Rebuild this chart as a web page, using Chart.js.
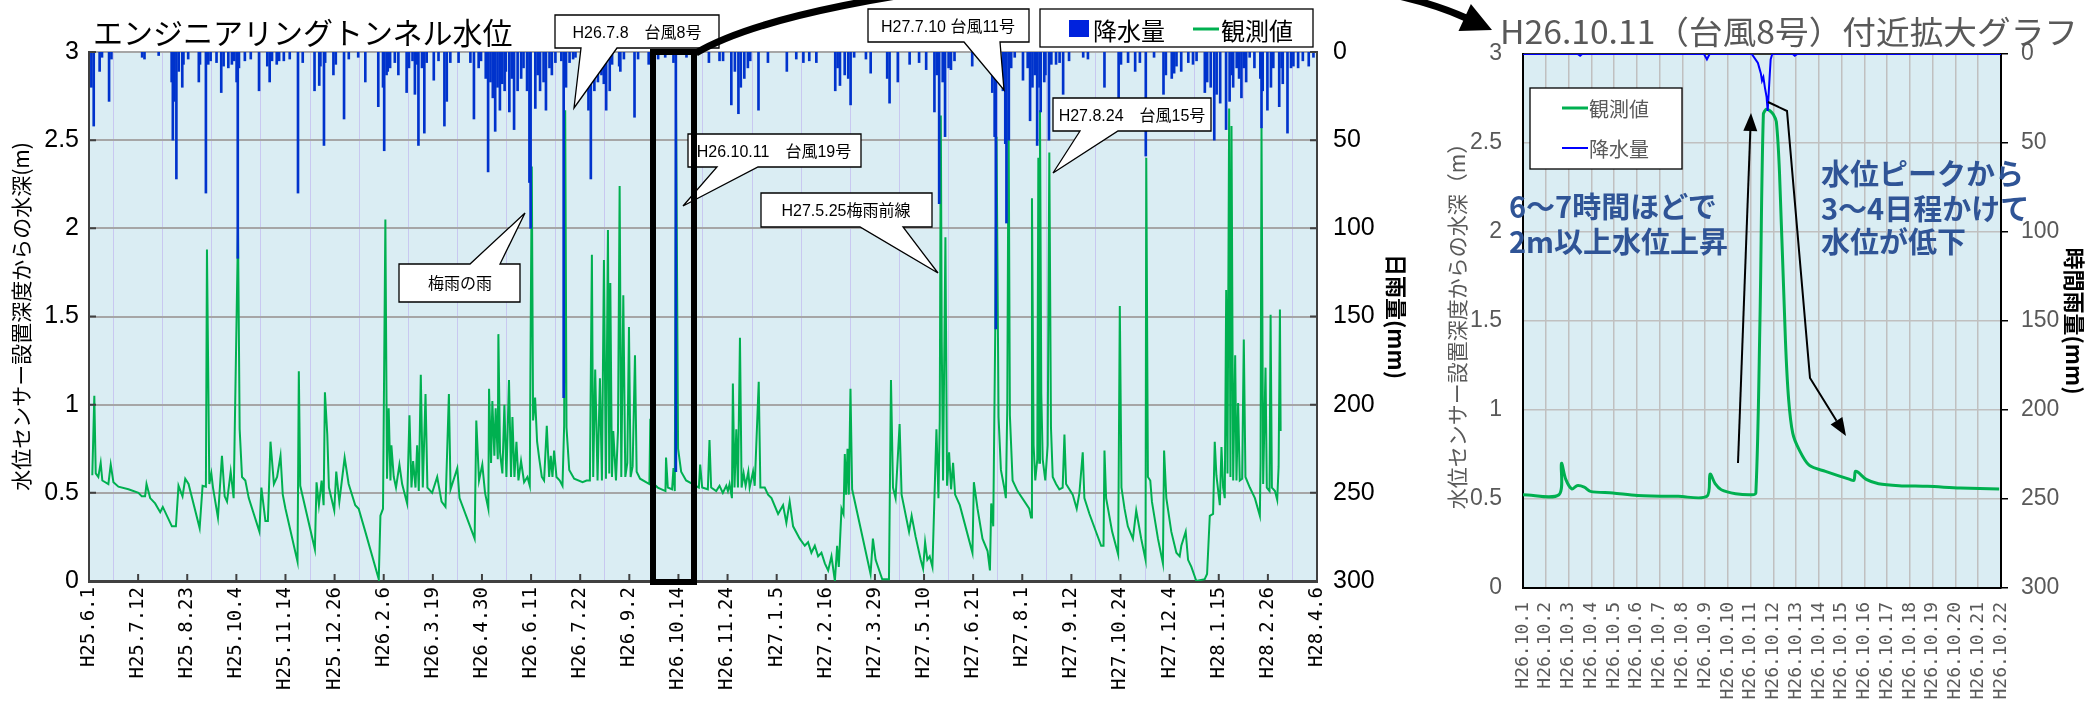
<!DOCTYPE html>
<html lang="ja">
<head>
<meta charset="utf-8">
<script src="https://cdn.jsdelivr.net/npm/chart.js@4.4.1/dist/chart.umd.min.js"></script>
<style>
  html, body { margin: 0; padding: 0; background: #fff; }
  body { width: 2092px; height: 702px; position: relative; overflow: hidden; }
  #mainChart { position: absolute; left: 0; top: 0; }
  #zoomChart { position: absolute; left: 1400px; top: 0; }
  #overlay { position: absolute; left: 0; top: 0; }
  #overlay text { font-family: 'Noto Sans CJK JP', sans-serif; }
  .callout { font-family: 'Liberation Sans Narrow', 'Liberation Sans', 'Noto Sans CJK JP', sans-serif !important; font-size: 16px; }
</style>
</head>
<body>
<canvas id="mainChart" width="1412" height="702" style="width:1412px;height:702px"></canvas>
<canvas id="zoomChart" width="692" height="702" style="width:692px;height:702px"></canvas>

<svg id="overlay" width="2092" height="702" xmlns="http://www.w3.org/2000/svg">
  <!-- titles -->
  <text x="93" y="31" font-size="30" dominant-baseline="central" fill="#000">エンジニアリングトンネル水位</text>
  <text x="1500" y="30" font-size="32" dominant-baseline="central" fill="#595959" textLength="578" lengthAdjust="spacingAndGlyphs">H26.10.11（台風8号）付近拡大グラフ</text>

  <!-- left legend -->
  <rect x="1040" y="9" width="273" height="38" fill="#fff" stroke="#000" stroke-width="1.3"/>
  <rect x="1069" y="20" width="20" height="17" fill="#0022dd"/>
  <text x="1093" y="29" font-size="24" dominant-baseline="central">降水量</text>
  <line x1="1193" y1="29" x2="1219" y2="29" stroke="#00b050" stroke-width="3"/>
  <text x="1221" y="29" font-size="24" dominant-baseline="central">観測値</text>

  <!-- callouts -->
  <g fill="#fff" stroke="#000" stroke-width="1.3">
    <path d="M555,15 H719 V48 H617 L574,108 L581,48 H555 Z"/>
    <path d="M868,9 H1029 V42 H1000 L1004,90 L964,42 H868 Z"/>
    <path d="M688,134 H861 V167 H758 L683,206 L717,167 H688 Z"/>
    <path d="M761,193 H932 V227 H903 L938,273 L860,227 H761 Z"/>
    <path d="M1053,98 H1211 V131 H1118 L1053,173 L1080,131 H1053 Z"/>
    <path d="M399,264 H470 L525,213 L500,264 H520 V302 H399 Z"/>
  </g>
  <g text-anchor="middle" dominant-baseline="central" fill="#000">
    <text class="callout" x="637" y="32">H26.7.8　台風8号</text>
    <text class="callout" x="948" y="26">H27.7.10 台風11号</text>
    <text class="callout" x="774" y="151">H26.10.11　台風19号</text>
    <text class="callout" x="846" y="210">H27.5.25梅雨前線</text>
    <text class="callout" x="1132" y="115">H27.8.24　台風15号</text>
    <text class="callout" x="460" y="283">梅雨の雨</text>
  </g>

  <!-- highlight box and curved arrow -->
  <rect x="653" y="52" width="41" height="530" fill="none" stroke="#000" stroke-width="6"/>
  <path d="M696,53 C820,-20 1290,-62 1466,18" fill="none" stroke="#000" stroke-width="7"/>
  <polygon points="1492,30 1458.5,31.1 1470.9,3.9" fill="#000"/>

  <!-- zoom chart legend -->
  <rect x="1530" y="88" width="152" height="81" fill="#fff" stroke="#000" stroke-width="1.3"/>
  <line x1="1562" y1="108" x2="1588" y2="108" stroke="#00b050" stroke-width="3"/>
  <text x="1589" y="108" font-size="20" dominant-baseline="central" fill="#595959">観測値</text>
  <line x1="1562" y1="148" x2="1588" y2="148" stroke="#0000ff" stroke-width="2"/>
  <text x="1589" y="148" font-size="20" dominant-baseline="central" fill="#595959">降水量</text>

  <!-- zoom chart notes -->
  <g font-size="29" font-weight="bold" fill="#2f5496" dominant-baseline="central">
    <text x="1509" y="205">6〜7時間ほどで</text>
    <text x="1509" y="240">2m以上水位上昇</text>
    <text x="1821" y="172">水位ピークから</text>
    <text x="1821" y="207">3〜4日程かけて</text>
    <text x="1821" y="240">水位が低下</text>
  </g>
  <line x1="1738" y1="463" x2="1750.3" y2="131" stroke="#000" stroke-width="2"/>
  <polygon points="1751,113 1757.3,131.3 1743.3,130.7" fill="#000"/>
  <polyline points="1768,102 1787,111 1810,378 1836.5,420.7" fill="none" stroke="#000" stroke-width="2"/>
  <polygon points="1846,436 1830.6,424.4 1842.4,417" fill="#000"/>
</svg>

<script>
// ---- whole period (days from H25.6.1) ----
const totalDays = 1040;

const mainTickLabels = ['H25.6.1', 'H25.7.12', 'H25.8.23', 'H25.10.4', 'H25.11.14', 'H25.12.26',
  'H26.2.6', 'H26.3.19', 'H26.4.30', 'H26.6.11', 'H26.7.22', 'H26.9.2', 'H26.10.14', 'H26.11.24',
  'H27.1.5', 'H27.2.16', 'H27.3.29', 'H27.5.10', 'H27.6.21', 'H27.8.1', 'H27.9.12', 'H27.10.24',
  'H27.12.4', 'H28.1.15', 'H28.2.26', 'H28.4.6'];

// daily rainfall (mm)
const rainDays = [2,4,9,11,17,19,45,47,59,70,71,72,74,76,79,80,84,93,94,99,101,103,108,112,114,118,121,123,125,126,127,132,137,144,151,153,155,159,161,165,170,177,181,191,195,196,199,200,207,209,
  216,220,228,234,245,249,250,252,253,255,259,262,269,271,274,276,278,279,282,284,286,292,296,301,303,306,313,323,326,330,332,336,338,340,342,344,346,348,350,352,353,356,358,360,363,366,368,371,373,374,378,380,382,385,387,390,392,395,400,402,404,407,410,412,
  423,425,428,431,434,436,438,441,443,449,450,453,462,465,474,482,488,495,497,506,525,534,537,544,547,550,552,555,558,560,567,575,591,599,605,610,616,632,634,
  636,640,643,645,648,658,662,676,678,685,695,703,709,716,718,720,723,725,728,730,733,748,765,767,768,770,774,776,777,779,781,784,791,795,797,799,801,803,805,806,809,810,813,815,819,822,825,830,842,846,
  860,872,874,880,886,890,895,902,910,912,917,919,921,925,931,935,938,945,947,950,953,955,958,963,966,968,969,972,974,976,978,980,983,987,992,993,994,998,1001,1003,1008,1010,1011,1015,1018,1020,1024,1028,1033,1037];
const rainMm = [20,42,11,3,28,4,3,4,2,17,50,28,72,11,20,7,4,17,7,80,7,5,6,23,8,9,7,5,17,117,9,5,4,22,8,17,5,7,5,5,4,80,6,22,19,8,53,6,13,7,
  38,4,3,17,31,20,56,13,11,9,6,13,23,9,5,24,7,53,9,46,6,16,5,42,28,6,6,6,38,9,5,15,68,17,26,45,20,33,18,22,11,34,15,44,22,15,9,22,74,100,32,13,22,17,33,9,13,6,5,196,20,6,4,3,
  33,72,22,17,13,18,33,22,7,8,11,4,37,4,7,4,3,6,238,3,6,5,5,30,11,35,20,15,9,5,33,6,11,4,6,5,6,22,9,
  19,13,15,30,3,4,12,15,29,17,7,6,10,34,13,86,17,48,9,10,5,8,23,48,157,9,22,52,97,50,9,3,16,9,39,20,13,53,20,34,17,13,50,7,7,6,24,5,3,4,
  20,28,7,6,11,6,59,3,24,13,15,12,8,11,6,7,5,23,17,20,50,24,29,44,28,13,20,9,15,26,9,17,3,9,15,43,22,33,20,9,31,9,18,46,9,8,9,5,8,3];

// observed water depth (m), vertices of the trace
const levelDays = [2.8,4.5,5.7,7.9,9.9,11.3,16.4,18.4,20.7,24.9,33.4,41.9,44.7,47.5,48.7,51.8,56,60.3,62.5,70.2,73.6,75.8,79.2,81.5,84.3,93.7,96.2,99,99.9,101.9,103.6,105,109.2,112.6,114.9,116.9,120,122.5,126.2,127.6,129.6,132.4,135.3,144.3,146,149.4,151.5,153.7,156.6,159.3,162.2,164.1,166.4,176.6,177.7,178.9,191.3,192.7,194.7,197,198.7,199.8,201.8,203.2,207.7,209.4,212,
  216.5,219.9,225.5,228.4,234,245.4,246.8,249,251,252.4,253.8,255.3,256.1,258.1,260,262.9,265.2,269.4,271.4,273.1,274.5,276.5,277.9,279.3,281,282.7,285,286.6,290.6,294.9,298.6,301.9,304.8,306.2,311.9,313.8,326.6,328,330.3,333.1,335.4,338.2,338.8,340.5,341.6,343.3,344.4,346.2,346.7,348.1,350.1,351.8,353.5,355.7,357.4,358.6,360.3,362,363.7,365.9,368.5,371.3,373.3,373.8,375,376.1,377.8,379.5,381.2,383.5,385.4,387.7,389.7,391.1,392.5,393.9,395.9,398.7,401,402.4,403.3,404.4,406.7,410.9,418,421.4,
  424.2,425.9,427,428.7,430.7,432.7,434.4,436.1,437.8,439.5,440.6,441.5,442.9,444,446.3,448,449.4,450.8,452.5,454.2,455.9,457.3,458.7,460.4,462.4,463.8,466.7,474.6,475.4,476.6,481.7,488.2,488.7,490.2,493.8,495,496.1,497.2,498.9,501.5,505.7,511.4,516.5,517.6,519.3,524.1,525.5,526.9,531.2,534,536.8,539.7,541.1,542.5,544.5,545.3,546.7,548.2,549.6,551.3,552.7,554.4,556.1,558.4,559.5,562.4,563.8,567.2,568.6,572.3,575.1,578,583.6,587.8,590.6,593.4,596.3,601.9,606.2,609,611.8,614.7,617.5,620.3,623.2,626,628.8,631.7,633.6,
  635,637.3,639,640.1,641.2,642.4,643.5,644.9,646.3,661.9,663.9,666.2,671.8,677.5,679.2,680.9,683.1,686.5,688.2,694.5,696.7,700.1,704.4,706.4,708.1,710,712,714.3,717.7,719.4,720.5,721.4,722.2,723.3,725.3,726.7,728.4,730.1,731.8,733.5,737.5,748.2,749.4,752.5,756.7,761,763,764.1,765.8,767.5,768.6,770.3,772.3,775.1,776.5,777.7,778.8,779.9,782.2,786.4,796.3,797.8,798.6,800,801.4,803.1,804,804.8,805.4,806.5,807.7,809.9,811.9,813.3,814.7,816.2,819,821.8,824.6,826.1,827.5,833.1,836.5,838.8,841.6,843,
  847.3,857.2,859.2,860,861.4,866.5,871.6,873,874.4,877,879.8,884.1,886.9,891.1,894.8,895.4,896.8,898.8,900.2,905.3,909.5,910.5,912.4,916.6,920.9,923.7,925.1,928.8,930.8,933.6,937.8,944.9,946.9,949.2,952,953.4,954.8,957.7,959.1,960.5,961.9,963.1,964.2,965.6,966.7,967.6,969,970.7,971.8,973.2,974.6,976.6,978,979.4,983.1,987.4,991.6,992.2,993,994.4,996.4,997.5,999.8,1000.7,1001.8,1004.4,1006.3,1007.5,1008.6,1009.2];
const levelM = [.60,1.05,.61,.59,.67,.57,.55,.66,.56,.535,.52,.50,.48,.48,.55,.47,.44,.39,.42,.31,.31,.54,.48,.58,.55,.30,.54,.535,1.88,.55,.61,.53,.36,.71,.48,.45,.62,.47,1.99,.86,.59,.57,.47,.28,.53,.34,.34,.79,.55,.59,.71,.49,.41,.11,1.19,.54,.18,.56,.43,.57,.43,1.07,.83,.53,.40,.62,.45,
  .70,.55,.43,.41,.28,.01,.37,.41,2.05,.58,.98,.57,.77,.59,.53,.66,.55,.44,.94,.53,.68,.53,.77,.51,1.17,.53,1.06,.53,.50,.59,.45,.42,1.06,.52,.64,.47,.24,.91,.57,.66,.50,.41,1.09,.67,1.02,.71,.98,.69,1.40,.73,.61,1.00,.59,1.14,.59,.93,.59,.79,.57,.68,.56,.59,.54,1.16,2.35,.91,1.04,.79,.70,.59,.57,.88,.59,.71,.59,.74,.59,.57,.54,.88,2.67,.87,.63,.58,.56,.57,
  .57,1.85,.59,1.20,.57,1.15,.57,1.82,.58,1.99,.61,1.69,.59,.85,.57,.85,2.24,.59,1.62,.59,.67,1.44,.59,.65,1.28,.62,.58,.55,.92,.56,.53,.51,.70,.53,.52,.64,.51,2.67,.75,.62,.57,.55,.53,.66,.53,.52,.80,.53,.51,.54,.50,.54,.51,.55,.47,1.12,.53,.86,.53,1.38,.53,.61,.54,.62,.53,.62,.54,1.13,.53,.53,.49,.47,.38,.43,.33,.45,.31,.24,.20,.22,.16,.20,.14,.16,.10,.06,.14,0,.20,
  .08,.41,.38,.72,.49,.75,.49,1.09,.52,.04,.24,.12,.01,.01,1.14,.53,.47,.89,.49,.28,.37,.25,.12,.07,.22,.12,.14,.08,.86,.47,.91,2.64,1.36,.57,1.95,.54,.73,.52,.67,.49,.43,.16,.56,.41,.24,.17,.06,.44,.31,1.42,2.52,.93,.63,.53,.47,.99,2.67,.94,.57,.51,.41,.36,2.17,.77,.57,.69,2.40,.67,2.67,1.06,.69,.57,.77,2.43,.87,.59,.55,.52,.53,.83,.55,.49,.41,.50,.73,.47,
  .38,.20,.20,.74,.47,.28,.15,1.56,.53,.41,.31,.24,.40,.24,.12,2.40,.59,.57,.45,.24,.10,.74,.47,.28,.16,.14,.20,.28,.12,.08,0,.01,.04,.37,.38,.79,.60,.43,.76,.53,.47,1.65,.61,2.68,.59,2.58,.57,1.28,.57,1.01,.57,.58,1.37,.59,.53,.47,.37,.67,2.57,.55,1.21,.53,.51,1.51,.53,.51,.46,.65,1.54,.85];

// ---- zoom period (days from H26.10.1) ----
const zoomTickLabels = ['H26.10.1', 'H26.10.2', 'H26.10.3', 'H26.10.4', 'H26.10.5', 'H26.10.6',
  'H26.10.7', 'H26.10.8', 'H26.10.9', 'H26.10.10', 'H26.10.11', 'H26.10.12', 'H26.10.13', 'H26.10.14',
  'H26.10.15', 'H26.10.16', 'H26.10.17', 'H26.10.18', 'H26.10.19', 'H26.10.20', 'H26.10.21', 'H26.10.22'];

const zoomLevelDays = [0,1.58,1.69,1.88,2.15,2.37,2.69,2.96,3.95,5.03,6.82,8.08,8.22,8.44,8.71,9.34,10.05,10.23,10.41,10.56,10.7,10.86,11.0,11.13,11.27,11.53,11.67,11.85,12.12,12.57,13.29,14.36,14.54,14.6,14.72,15.08,15.62,16.52,17.77,19.21,20.92];
const zoomLevelM = [.524,.524,.70,.61,.556,.575,.567,.543,.534,.52,.515,.515,.64,.586,.552,.53,.524,.534,1.5,2.66,2.69,2.68,2.66,2.62,2.33,1.39,1.06,.87,.78,.69,.655,.61,.605,.655,.65,.61,.586,.575,.571,.562,.556];

// hourly rainfall (mm)
const zoomRainDays = [0,2.4,2.51,2.6,7.95,8.08,8.2,10.05,10.32,10.45,10.5,10.56,10.63,10.7,10.75,10.83,10.88,10.95,11.85,11.94,12.05,21];
const zoomRainMm = [0,0,1,0,0,3,0,0,5,11,15,13,19,24,32,14,3,0,0,1,0,0];

// ---- shared look ----
const cjk = "'Noto Sans CJK JP', sans-serif";
const narrow = "'Liberation Sans Narrow', 'Liberation Sans', sans-serif";
const mono = "'DejaVu Sans Mono', monospace";

const plotBackground = {
  id: 'plotBackground',
  beforeDraw(chart, args, opts) {
    const { ctx, chartArea: a } = chart;
    ctx.save();
    ctx.fillStyle = opts.color;
    ctx.fillRect(a.left, a.top, a.width, a.height);
    ctx.restore();
  }
};

// short tick marks pointing into the plot (main chart)
const innerTicks = {
  id: 'innerTicks',
  afterDatasetsDraw(chart, args, opts) {
    if (!opts.enabled) return;
    const { ctx, chartArea: a, scales } = chart;
    ctx.save();
    ctx.strokeStyle = '#404040';
    ctx.lineWidth = 2;
    ctx.beginPath();
    scales.y.ticks.forEach(t => {
      const y = scales.y.getPixelForValue(t.value);
      ctx.moveTo(a.left, y); ctx.lineTo(a.left + 7, y);
      ctx.moveTo(a.right - 7, y); ctx.lineTo(a.right, y);
    });
    scales.x.ticks.forEach(t => {
      const x = scales.x.getPixelForValue(t.value);
      ctx.moveTo(x, a.bottom); ctx.lineTo(x, a.bottom - 7);
    });
    ctx.stroke();
    ctx.restore();
  }
};

// black top edge of the zoom plot, drawn under the rain line
const topEdge = {
  id: 'topEdge',
  beforeDatasetsDraw(chart, args, opts) {
    if (!opts.enabled) return;
    const { ctx, chartArea: a } = chart;
    ctx.save();
    ctx.strokeStyle = '#000';
    ctx.lineWidth = 1.5;
    ctx.beginPath();
    ctx.moveTo(a.left, a.top); ctx.lineTo(a.right, a.top);
    ctx.stroke();
    ctx.restore();
  }
};

Chart.register(plotBackground, innerTicks, topEdge);

// ---- main chart ----
new Chart(document.getElementById('mainChart').getContext('2d'), {
  type: 'line',
  data: {
    datasets: [
      {
        type: 'bar',
        label: '降水量',
        data: rainDays.map((d, i) => ({ x: d, y: rainMm[i] })),
        yAxisID: 'yRain',
        backgroundColor: '#0033cc',
        barThickness: 2,
        order: 0
      },
      {
        type: 'line',
        label: '観測値',
        data: levelDays.map((d, i) => ({ x: d, y: levelM[i] })),
        yAxisID: 'y',
        borderColor: '#00b050',
        borderWidth: 2,
        pointRadius: 0,
        tension: 0,
        order: 1
      }
    ]
  },
  options: {
    responsive: false,
    animation: false,
    layout: { padding: { top: 52, left: 0, right: 0, bottom: 0 } },
    plugins: {
      legend: { display: false },
      tooltip: { enabled: false },
      plotBackground: { color: '#daedf3' },
      innerTicks: { enabled: true },
      topEdge: { enabled: false }
    },
    scales: {
      x: {
        type: 'linear',
        min: 0,
        max: totalDays,
        offset: false,
        afterBuildTicks: s => {
          s.ticks = mainTickLabels.map((_, i) => ({ value: i * totalDays / (mainTickLabels.length - 1) }));
        },
        ticks: {
          autoSkip: false, minRotation: 90, maxRotation: 90, padding: 6,
          color: '#000', font: { family: mono, size: 19 },
          callback: (v, i) => mainTickLabels[i]
        },
        grid: { color: '#c8c8f0', lineWidth: 1, drawTicks: false },
        border: { color: '#404040', width: 3 },
        afterFit: s => { s.height = 121; }
      },
      y: {
        position: 'left',
        min: 0, max: 3,
        ticks: { stepSize: 0.5, padding: 10, color: '#000', font: { family: narrow, size: 25 }, callback: v => String(v) },
        grid: { color: '#a6a6a6', lineWidth: 2, drawTicks: false },
        border: { color: '#404040', width: 2 },
        title: { display: true, text: '水位センサー設置深度からの水深(m)', color: '#000', font: { family: cjk, size: 21 }, padding: { top: 8, bottom: 0 } },
        afterFit: s => { s.width = 89; }
      },
      yRain: {
        position: 'right',
        min: 0, max: 300, reverse: true,
        ticks: { stepSize: 50, padding: 16, color: '#000', font: { family: narrow, size: 25 } },
        grid: { display: false, drawTicks: false },
        border: { color: '#404040', width: 2 },
        title: { display: true, text: '日雨量(mm)', color: '#000', font: { family: cjk, size: 22, weight: 'bold' }, padding: { top: 2, bottom: 0 } },
        afterFit: s => { s.width = 95; }
      }
    }
  }
});

// ---- zoom chart ----
new Chart(document.getElementById('zoomChart').getContext('2d'), {
  type: 'line',
  data: {
    datasets: [
      {
        label: '降水量',
        data: zoomRainDays.map((d, i) => ({ x: d, y: zoomRainMm[i] })),
        yAxisID: 'y2',
        borderColor: '#0000ff',
        borderWidth: 2,
        pointRadius: 0,
        tension: 0,
        order: 0
      },
      {
        label: '観測値',
        data: zoomLevelDays.map((d, i) => ({ x: d, y: zoomLevelM[i] })),
        yAxisID: 'y',
        borderColor: '#00b050',
        borderWidth: 3,
        pointRadius: 0,
        tension: 0.3,
        order: 1
      }
    ]
  },
  options: {
    responsive: false,
    animation: false,
    layout: { padding: { top: 54, left: 40, right: 0, bottom: 0 } },
    plugins: {
      legend: { display: false },
      tooltip: { enabled: false },
      plotBackground: { color: '#daedf3' },
      innerTicks: { enabled: false },
      topEdge: { enabled: true }
    },
    scales: {
      x: {
        type: 'linear',
        min: 0, max: zoomTickLabels.length - 1,
        offset: false,
        afterBuildTicks: s => { s.ticks = zoomTickLabels.map((_, i) => ({ value: i })); },
        ticks: {
          autoSkip: false, minRotation: 90, maxRotation: 90, padding: 14,
          color: '#595959', font: { family: mono, size: 18 },
          callback: (v, i) => zoomTickLabels[i]
        },
        grid: { color: '#c0c0c0', lineWidth: 1.5, drawTicks: false },
        border: { color: '#000', width: 2 },
        afterFit: s => { s.height = 114; }
      },
      y: {
        position: 'left',
        min: 0, max: 3,
        ticks: { stepSize: 0.5, padding: 21, color: '#595959', font: { family: narrow, size: 23 }, callback: v => String(v) },
        grid: { color: '#c0c0c0', lineWidth: 1.5, drawTicks: false },
        border: { color: '#000', width: 2 },
        title: { display: true, text: '水位センサー設置深度からの水深（m）', color: '#595959', font: { family: cjk, size: 21 }, padding: { top: 4, bottom: 0 } },
        afterFit: s => { s.width = 83; }
      },
      y2: {
        position: 'right',
        min: 0, max: 300, reverse: true,
        ticks: { stepSize: 50, padding: 13, color: '#595959', font: { family: narrow, size: 23 } },
        grid: { display: true, drawOnChartArea: false, drawTicks: true, tickLength: 7, color: '#000', lineWidth: 1.5 },
        border: { color: '#000', width: 2 },
        title: { display: true, text: '時間雨量(mm)', color: '#000', font: { family: cjk, size: 22, weight: 'bold' }, padding: { top: 4, bottom: 0 } },
        afterFit: s => { s.width = 91; }
      }
    }
  }
});
</script>
</body>
</html>
